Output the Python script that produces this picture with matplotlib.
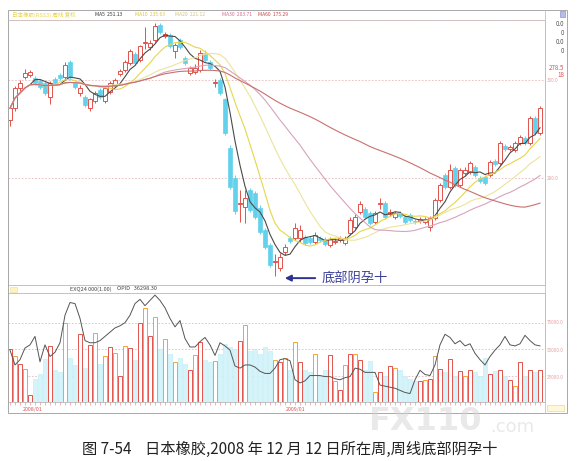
import numpy as np
import pandas as pd
import matplotlib
matplotlib.use('Agg')
import matplotlib.pyplot as plt

plt.rcParams['font.family'] = ['Noto Sans CJK SC', 'DejaVu Sans']

# 周线 开 高 低 收 (日本橡胶, 2007/12 - 2009/11)
opens = [259, 271, 292, 303, 305, 302, 299, 297, 283, 301, 305, 303, 318, 297, 287, 283, 271, 278, 290, 278,
         288, 295, 306, 310, 317, 326, 320, 338, 333, 341, 356, 345, 346, 329, 341, 322, 307, 308, 310, 327,
         318, 297, 300, 280, 231, 200, 174, 170, 188, 185, 169, 147, 132, 114, 108, 125, 139, 139, 139, 140,
         139, 135, 139, 138, 132, 135, 137, 134, 144, 150, 165, 168, 164, 155, 174, 175, 163, 160, 164, 160,
         162, 156, 156, 155, 150, 159, 178, 203, 191, 210, 193, 205, 206, 211, 200, 201, 203, 217, 215, 233,
         230, 229, 236, 241, 236, 261, 246]
closes = [271, 292, 297, 307, 308, 297, 293, 287, 297, 297, 302, 315, 303, 293, 292, 274, 280, 287, 283, 292,
          297, 300, 309, 318, 329, 317, 334, 339, 338, 355, 349, 347, 334, 336, 333, 317, 312, 312, 327, 320,
          312, 298, 287, 246, 191, 166, 175, 180, 167, 160, 145, 130, 111, 115, 120, 130, 136, 149, 147, 134,
          135, 142, 137, 133, 138, 136, 139, 139, 157, 160, 174, 160, 154, 164, 175, 160, 165, 164, 161, 155,
          157, 155, 158, 158, 159, 178, 193, 191, 208, 193, 208, 208, 215, 203, 197, 195, 216, 214, 236, 230,
          232, 236, 242, 236, 261, 246, 271]
highs = [274, 294, 300, 311, 310, 304, 301, 299, 299, 303, 307, 318, 320, 299, 295, 285, 282, 289, 292, 294,
         299, 302, 311, 320, 331, 328, 336, 354, 341, 358, 358, 349, 348, 338, 343, 324, 314, 316, 330, 330,
         320, 301, 302, 282, 234, 203, 188, 188, 190, 187, 172, 149, 134, 123, 124, 133, 141, 154, 152, 142,
         141, 145, 141, 140, 140, 139, 141, 141, 160, 163, 177, 170, 166, 166, 180, 177, 168, 166, 166, 162,
         164, 158, 160, 160, 161, 180, 195, 205, 214, 212, 210, 211, 217, 213, 202, 203, 218, 219, 238, 235,
         234, 238, 244, 243, 263, 263, 273]
lows = [253, 268, 289, 301, 303, 295, 291, 285, 275, 295, 300, 301, 300, 291, 284, 272, 268, 276, 281, 276,
        286, 293, 304, 308, 315, 315, 318, 331, 330, 339, 347, 343, 332, 322, 331, 315, 305, 306, 308, 318,
        310, 293, 285, 244, 189, 163, 155, 154, 165, 158, 143, 128, 109, 100, 105, 122, 134, 137, 135, 132,
        133, 133, 135, 131, 130, 133, 135, 132, 142, 148, 163, 158, 152, 153, 168, 158, 161, 158, 159, 153,
        155, 153, 154, 153, 146, 157, 176, 189, 189, 191, 191, 203, 204, 201, 195, 193, 201, 212, 213, 228,
        228, 227, 234, 234, 234, 244, 244]

volumes = [50000, 43000, 36000, 31000, 7000, 22000, 26000, 41000, 53000, 30000, 28000, 75000, 42000, 35000,
           64000, 32000, 54000, 65000, 36000, 43000, 52000, 46000, 25000, 53000, 51000, 40000, 75000, 89000,
           62000, 80000, 50000, 60000, 45000, 38000, 42000, 36000, 30000, 44000, 57000, 40000, 38000, 39000,
           45000, 55000, 52000, 50000, 58000, 73000, 48000, 50000, 45000, 52000, 48000, 40000, 38000, 42000,
           30000, 57000, 38000, 30000, 28000, 45000, 25000, 30000, 44000, 20000, 11000, 35000, 45000, 45000,
           40000, 30000, 39000, 9000, 28000, 25000, 34000, 32000, 30000, 25000, 22000, 20000, 20000, 21000,
           22000, 43000, 31000, 28000, 41000, 25000, 29000, 25000, 30000, 28000, 25000, 42000, 26000, 29000,
           30000, 25000, 21000, 15000, 38000, 25000, 30000, 28000, 30000]

# 持仓量 (按成交量坐标读出)
open_interest = [49000, 35000, 40000, 51000, 54000, 62000, 38000, 54000, 43000, 47000, 56000, 82000, 94000,
                 93000, 79000, 58000, 56000, 56000, 58000, 62000, 66000, 70000, 72000, 75000, 82000, 93000,
                 97000, 91000, 96000, 101000, 96000, 89000, 79000, 71000, 77000, 60000, 52000, 52000, 57000,
                 61000, 54000, 44000, 56000, 53000, 49000, 34000, 32000, 35000, 35000, 33000, 29000, 27000,
                 27000, 32000, 40000, 41000, 39000, 21000, 18000, 20000, 25000, 25000, 25000, 24000, 24000,
                 22000, 21000, 23000, 24000, 32000, 31000, 28000, 28000, 28000, 16000, 15000, 14000, 13000,
                 11000, 9000, 8000, 21000, 30000, 26000, 25000, 35000, 54000, 64000, 61000, 55000, 58000,
                 53000, 55000, 46000, 40000, 35000, 43000, 49000, 54000, 62000, 54000, 53000, 55000, 63000,
                 58000, 54000, 53000]

ma_periods = [5, 10, 20, 30, 60]
ma_colors = ['#4a4a4a', '#e6d64a', '#ece49a', '#d7a3bd', '#c9706e']
ma_labels = ['MA5  251.13', 'MA10  235.63', 'MA20  221.12', 'MA30  203.71', 'MA60  175.29']
date_labels = ['2008/01', '2009/01']
date_pos = [2.6, 55.2]
doji_index = 53

W, H = 582, 461
fig = plt.figure(figsize=(W / 100, H / 100), dpi=100)
fig.patch.set_facecolor('white')


def box(x0, y0, x1, y1):
    return [x0 / W, 1 - y1 / H, (x1 - x0) / W, (y1 - y0) / H]


up_col = '#e2534b'
dn_col = '#62d2ec'
n = len(closes)
idx = np.arange(n)
o = np.array(opens, float)
c = np.array(closes, float)
hi = np.array(highs, float)
lo = np.array(lows, float)
up = c >= o

# 价格区
ax = fig.add_axes(box(8, 20, 545, 285))
ax.set_xlim(-0.4, 107)
ax.set_ylim(91, 361)
ax.vlines(idx, lo, hi, colors=np.where(up, up_col, dn_col), lw=0.7, zorder=2)
body_h = np.maximum(np.abs(c - o), 0.6)
ax.bar(idx[up], body_h[up], bottom=np.minimum(o, c)[up], width=0.7,
       facecolor='white', edgecolor=up_col, lw=0.7, zorder=3)
ax.bar(idx[~up], body_h[~up], bottom=np.minimum(o, c)[~up], width=0.7,
       facecolor=dn_col, edgecolor=dn_col, lw=0.5, zorder=3)
s = pd.Series(c)
for p, col in zip(ma_periods, ma_colors):
    ax.plot(idx, s.rolling(p, min_periods=1).mean(), color=col, lw=0.8, zorder=4)
for lvl in [300, 200]:
    ax.axhline(lvl, color='#e8b8b8', lw=0.6, ls=(0, (2, 2)), zorder=1)
ax.set_xticks([])
ax.set_yticks([])
for sp in ax.spines.values():
    sp.set_color('#b8b8b8')
    sp.set_linewidth(0.6)

ax.annotate('', xy=(doji_index + 1.4, 98), xytext=(doji_index + 8.6, 98),
            arrowprops=dict(arrowstyle='-|>', color='#2e3392', lw=1.4, mutation_scale=9))
ax.text(doji_index + 9.4, 98, '底部阴孕十', color='#3b3f98', fontsize=9.5, va='center', ha='left')

# 成交量区
axv = fig.add_axes(box(8, 293, 545, 402))
axv.set_xlim(-0.4, 107)
axv.set_ylim(0, 103000)
vol = np.array(volumes, float)
vcols = ['#e2534b' if (u and i % 2 == 0) else '#f2a23c' for i, u in enumerate(up)]
axv.bar(idx[~up], vol[~up], width=0.7, facecolor='#d6f3f9', edgecolor='#c4eef7', lw=0.5, zorder=2)
for i in idx[up]:
    axv.bar(i, vol[i], width=0.7, facecolor='white', edgecolor=vcols[i], lw=0.7, zorder=3)
axv.plot(idx, open_interest, color='#555555', lw=0.7, zorder=4)
for lvl in [25000, 50000, 75000]:
    axv.axhline(lvl, color='#e8b8b8', lw=0.6, ls=(0, (2, 2)), zorder=1)
axv.set_xticks([])
axv.set_yticks([])
for sp in axv.spines.values():
    sp.set_color('#b8b8b8')
    sp.set_linewidth(0.6)

# 日期条
axd = fig.add_axes(box(8, 402, 545, 413))
axd.set_xlim(-0.4, 107)
axd.set_ylim(0, 1)
axd.vlines(idx, 0.75, 1.0, color='#e77', lw=0.4)
for lab, p in zip(date_labels, date_pos):
    axd.text(p, 0.35, lab, color='#d9534f', fontsize=3.8, va='center', ha='left')
axd.axis('off')

# 外框和右侧坐标条
fig.add_artist(plt.Rectangle((8 / W, 1 - 413 / H), (567 - 8) / W, (413 - 10) / H,
                             transform=fig.transFigure, fill=False, ec='#a8a8a8', lw=0.7))
fig.add_artist(plt.Line2D([545 / W, 545 / W], [1 - 413 / H, 1 - 10 / H],
                          transform=fig.transFigure, color='#c0c0c0', lw=0.6))
fig.add_artist(plt.Line2D([8 / W, 545 / W], [1 - 20 / H, 1 - 20 / H],
                          transform=fig.transFigure, color='#ecc0c0', lw=0.5, ls=(0, (2, 2))))

# 顶部均线说明
fig.text(12 / W, 1 - 15 / H, '日本橡胶(RSS3) 周线 复权', color='#e8d44a', fontsize=4.0, va='center')
xs = [95, 135, 175, 222, 258]
for x, lab, col in zip(xs, ma_labels, ['#333333', '#d9c53a', '#cfc47a', '#d26a8a', '#cc4444']):
    fig.text(x / W, 1 - 15 / H, lab, color=col, fontsize=3.6, va='center')
fig.text(70 / W, 1 - 289 / H, 'EXQ24 000(1.00)', color='#444444', fontsize=4.0, va='center')
fig.text(117 / W, 1 - 289 / H, 'OPID   36298.30', color='#444444', fontsize=4.0, va='center')
fig.add_artist(plt.Rectangle((10 / W, 1 - 292 / H), 7 / W, 5 / H, transform=fig.transFigure,
                             fc='#fbf3c4', ec='#f0e090', lw=0.4))

right_txt = [('0.0', 24, '#555555'), ('0', 33, '#555555'), ('0.0', 42, '#555555'), ('0', 51, '#555555'),
             ('278.5', 68, '#d9534f'), ('18', 75, '#d9534f')]
for t, y, col in right_txt:
    fig.text(564 / W, 1 - y / H, t, color=col, fontsize=4.5, ha='right', va='center')
for t, y in [('300.0', 80), ('200.0', 178), ('75000.0', 323), ('50000.0', 350), ('25000.0', 377)]:
    fig.text(547 / W, 1 - y / H, t, color='#e6a0a0', fontsize=3.3, ha='left', va='center')
fig.add_artist(plt.Rectangle((560 / W, 1 - 17 / H), 5 / W, 6 / H, transform=fig.transFigure,
                             fc='#b8bde8', ec='#7a80c8', lw=0.4))
fig.add_artist(plt.Rectangle((547 / W, 1 - 411 / H), 17 / W, 6 / H, transform=fig.transFigure,
                             fc='#fff8d8', ec='#e8d070', lw=0.4))

# 水印
fig.text(368 / W, 1 - 421 / H, 'FX110', color='#d4d4d4', fontsize=23, fontweight='bold',
         va='center', ha='left', alpha=0.5, family='DejaVu Sans')
fig.text(490 / W, 1 - 427 / H, '.com', color='#d4d4d4', fontsize=13,
         va='center', ha='left', alpha=0.5, family='DejaVu Sans')

fig.text(290 / W, 1 - 449 / H, '图 7-54    日本橡胶,2008 年 12 月 12 日所在周,周线底部阴孕十',
         color='#222222', fontsize=11, ha='center', va='center')

fig.savefig('out.png', dpi=100, facecolor='white')
